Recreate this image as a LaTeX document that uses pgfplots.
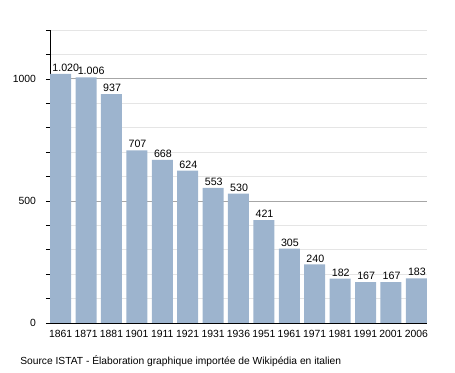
\documentclass[border=0pt]{standalone}
\usepackage{pgfplots}
\pgfplotsset{compat=1.18}
\usepackage{fontspec}
\setmainfont{Liberation Sans}
\definecolor{barblue}{RGB}{157,180,206}
\begin{document}
\begin{tikzpicture}[x=0.75pt,y=0.75pt]
\useasboundingbox (-50,-50) rectangle (405,323);
\begin{axis}[
  at={(0,0)}, anchor=south west,
  scale only axis,
  width=282.75pt, height=219.75pt,
  ymin=0, ymax=1200,
  xmin=-0.42, xmax=14.42,
  xtick=data,
  xticklabels={1861,1871,1881,1901,1911,1921,1931,1936,1951,1961,1971,1981,1991,2001,2006},
  ytick={0,500,1000},
  minor ytick={100,200,300,400,600,700,800,900,1100,1200},
  ymajorgrids, yminorgrids,
  major grid style={gray!70, line width=0.5pt},
  minor grid style={gray!20, line width=0.5pt},
  axis x line*=bottom,
  axis y line*=left,
  x axis line style={-},
  y axis line style={-},
  xtick style={draw=none},
  ytick style={black, line width=0.4pt},
  tick align=outside,
  major tick length=3pt,
  minor tick length=3pt,
  minor tick style={black, line width=0.4pt},
  tick label style={font=\fontsize{7.8}{9}\selectfont},
  /pgf/number format/assume math mode=true,
  yticklabel style={/pgf/number format/1000 sep={}, xshift=-4pt},
  xticklabel style={yshift=1pt},
  bar width=15.75pt,
  nodes near coords,
  nodes near coords style={font=\fontsize{8}{9}\selectfont, /pgf/number format/1000 sep={.}, anchor=south west, xshift=-7.4pt, inner sep=1pt, yshift=0.5pt},
  clip=false,
]
\addplot[ybar, fill=barblue, draw=none] coordinates {
(0,1020) (1,1006) (2,937) (3,707) (4,668) (5,624) (6,553) (7,530) (8,421) (9,305) (10,240) (11,182) (12,167) (13,167) (14,183)};
\end{axis}
\node[anchor=west, font=\fontsize{7.7}{9}\selectfont, inner sep=0pt] at (-30,-38) {Source ISTAT - Élaboration graphique importée de Wikipédia en italien};
\end{tikzpicture}
\end{document}
